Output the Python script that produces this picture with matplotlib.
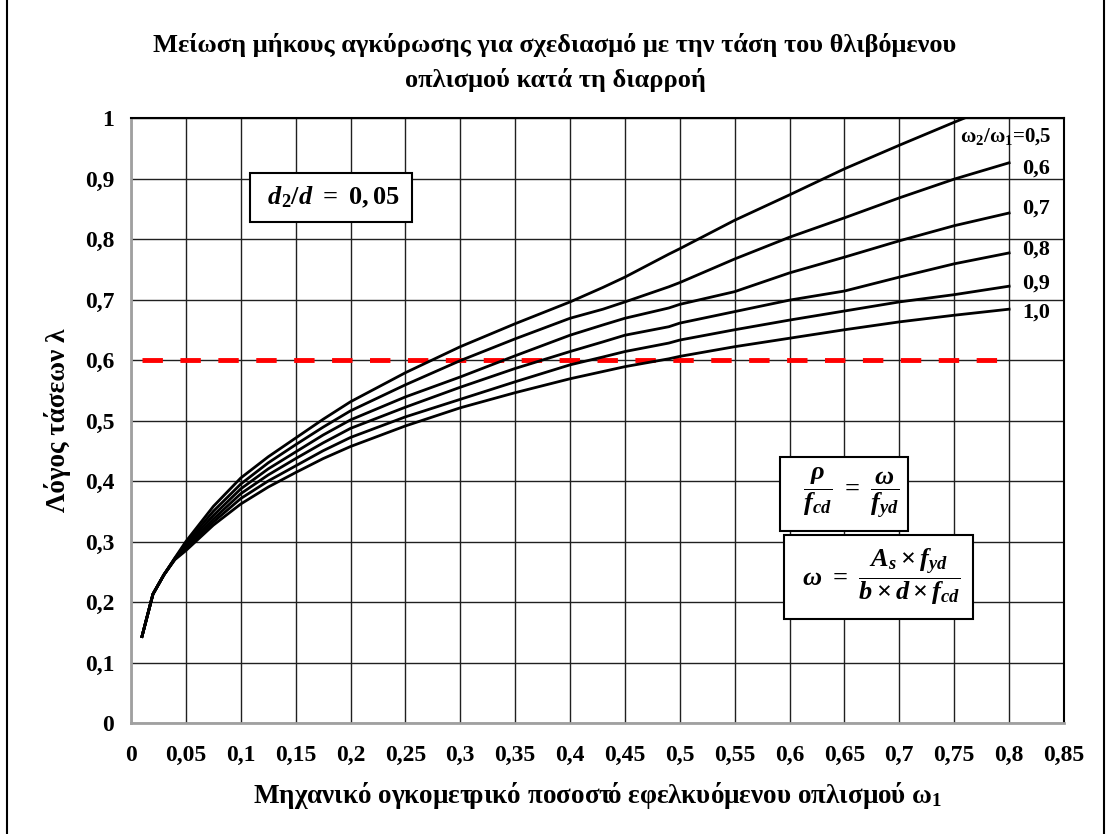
import numpy as np
import matplotlib
matplotlib.use('Agg')
import matplotlib.pyplot as plt
from matplotlib.lines import Line2D

plt.rcParams['font.family'] = ['Liberation Serif', 'DejaVu Serif']
plt.rcParams['font.weight'] = 'bold'
plt.rcParams['axes.labelweight'] = 'bold'
plt.rcParams['mathtext.fontset'] = 'custom'
plt.rcParams['mathtext.rm'] = 'Liberation Serif:bold'
plt.rcParams['mathtext.it'] = 'Liberation Serif:italic:bold'
plt.rcParams['mathtext.bf'] = 'Liberation Serif:bold'

# omega_1 values
w1 = [0.01, 0.02, 0.03, 0.04, 0.05, 0.075, 0.1, 0.125, 0.15, 0.175, 0.2, 0.25, 0.3,
      0.35, 0.4, 0.43, 0.45, 0.49, 0.5, 0.55, 0.6, 0.65, 0.7, 0.75, 0.8]

# lambda for each w2/w1 ratio
lam_05 = [0.143, 0.213, 0.245, 0.273, 0.300, 0.358, 0.405, 0.440, 0.471, 0.502, 0.531,
          0.579, 0.622, 0.660, 0.696, 0.720, 0.737, 0.775, 0.784, 0.831, 0.873, 0.916,
          0.955, 0.993, 1.03]
lam_06 = [0.143, 0.213, 0.245, 0.272, 0.297, 0.350, 0.395, 0.430, 0.460, 0.489, 0.516,
          0.559, 0.599, 0.635, 0.669, 0.684, 0.696, 0.721, 0.728, 0.767, 0.803, 0.835,
          0.868, 0.899, 0.926]
lam_07 = [0.143, 0.213, 0.245, 0.272, 0.294, 0.343, 0.387, 0.420, 0.448, 0.476, 0.501,
          0.539, 0.572, 0.607, 0.641, 0.658, 0.669, 0.686, 0.692, 0.713, 0.744, 0.770,
          0.797, 0.822, 0.843]
lam_08 = [0.143, 0.213, 0.245, 0.271, 0.291, 0.337, 0.379, 0.410, 0.437, 0.463, 0.487,
          0.522, 0.555, 0.586, 0.614, 0.630, 0.641, 0.655, 0.661, 0.680, 0.699, 0.714,
          0.737, 0.759, 0.777]
lam_09 = [0.143, 0.213, 0.245, 0.271, 0.288, 0.332, 0.371, 0.400, 0.425, 0.450, 0.472,
          0.506, 0.535, 0.564, 0.592, 0.605, 0.614, 0.628, 0.633, 0.650, 0.666, 0.681,
          0.696, 0.708, 0.722]
lam_10 = [0.143, 0.213, 0.245, 0.270, 0.285, 0.327, 0.362, 0.390, 0.414, 0.437, 0.457,
          0.491, 0.521, 0.546, 0.569, 0.581, 0.589, 0.602, 0.606, 0.622, 0.636, 0.650,
          0.663, 0.674, 0.684]
curves = [lam_05, lam_06, lam_07, lam_08, lam_09, lam_10]

curve_labels = ['ω$_2$/ω$_1$=0,5', '0,6', '0,7', '0,8', '0,9', '1,0']
label_y = [0.969, 0.917, 0.851, 0.782, 0.727, 0.679]

limit_x = [0.01, 0.79]
limit_y = [0.6, 0.6]

xticks = [0, 0.05, 0.1, 0.15, 0.2, 0.25, 0.3, 0.35, 0.4, 0.45, 0.5, 0.55, 0.6,
          0.65, 0.7, 0.75, 0.8, 0.85]
xticklabels = ['0', '0,05', '0,1', '0,15', '0,2', '0,25', '0,3', '0,35', '0,4', '0,45',
               '0,5', '0,55', '0,6', '0,65', '0,7', '0,75', '0,8', '0,85']
yticks = [0, 0.1, 0.2, 0.3, 0.4, 0.5, 0.6, 0.7, 0.8, 0.9, 1.0]
yticklabels = ['0', '0,1', '0,2', '0,3', '0,4', '0,5', '0,6', '0,7', '0,8', '0,9', '1']

fig = plt.figure(figsize=(11.1, 8.34), dpi=100)
ax = fig.add_axes([131/1110, 1 - 723/834, 933/1110, 605/834])

ax.plot(limit_x, limit_y, color='red', lw=3.5, dashes=(4.2, 3.6), zorder=3)
for lam in curves:
    ax.plot(w1, lam, color='black', lw=2, zorder=4)

ax.set_xlim(0, 0.85)
ax.set_ylim(0, 1)
ax.set_xticks(xticks)
ax.set_xticklabels(xticklabels)
ax.set_yticks(yticks)
ax.set_yticklabels(yticklabels)
ax.tick_params(length=0, labelsize=17, pad=12)
ax.tick_params(axis='x', pad=16)
ax.grid(True, color='#202020', lw=1)
ax.set_axisbelow(True)
ax.spines['left'].set_color('#a0a0a0')
ax.spines['bottom'].set_color('#a0a0a0')
ax.spines['left'].set_linewidth(2)
ax.spines['bottom'].set_linewidth(2)
ax.spines['top'].set_linewidth(1.5)
ax.spines['right'].set_linewidth(1.5)

for i, (lab, ly) in enumerate(zip(curve_labels, label_y)):
    if i == 0:
        ax.text(0.839, ly, lab, ha='right', va='center', fontsize=15, clip_on=False)
    else:
        ax.text(0.812, ly, lab, ha='left', va='center', fontsize=16, clip_on=False)

ax.text(0.182, 0.869, r'$\ d_2/d\ =\ 0,05\ $', ha='center', va='center', fontsize=19,
        bbox=dict(boxstyle='square,pad=0.45', fc='white', ec='black', lw=1.5), zorder=6)
ax.text(0.650, 0.379, r'$\ \ \dfrac{\rho}{f_{cd}}\ =\ \dfrac{\omega}{f_{yd}}\ \ $', ha='center',
        va='center', fontsize=19,
        bbox=dict(boxstyle='square,pad=0.35', fc='white', ec='black', lw=1.5), zorder=6)
ax.text(0.681, 0.242, r'$\ \omega\ =\ \dfrac{A_s \times f_{yd}}{b \times d \times f_{cd}}\ $',
        ha='center', va='center', fontsize=19,
        bbox=dict(boxstyle='square,pad=0.45', fc='white', ec='black', lw=1.5), zorder=6)

fig.text(0.5, 1 - 45/834, 'Μείωση μήκους αγκύρωσης για σχεδιασμό με την τάση του θλιβόμενου',
         ha='center', va='center', fontsize=19)
fig.text(0.5, 1 - 80/834, 'οπλισμού κατά τη διαρροή', ha='center', va='center', fontsize=19)
ax.set_xlabel('Μηχανικό ογκομετρικό ποσοστ\u03cc εφελκυόμενου οπλισμού ω$_1$', fontsize=19.5,
              labelpad=10)
ax.set_ylabel('Λόγος τάσεων λ', fontsize=19.5, labelpad=10)

fig.add_artist(Line2D([7/1110, 7/1110], [0, 1], color='black', lw=1.5, transform=fig.transFigure))
fig.add_artist(Line2D([1104/1110, 1104/1110], [0, 1], color='black', lw=1.5, transform=fig.transFigure))

fig.savefig('out.png', dpi=100)
